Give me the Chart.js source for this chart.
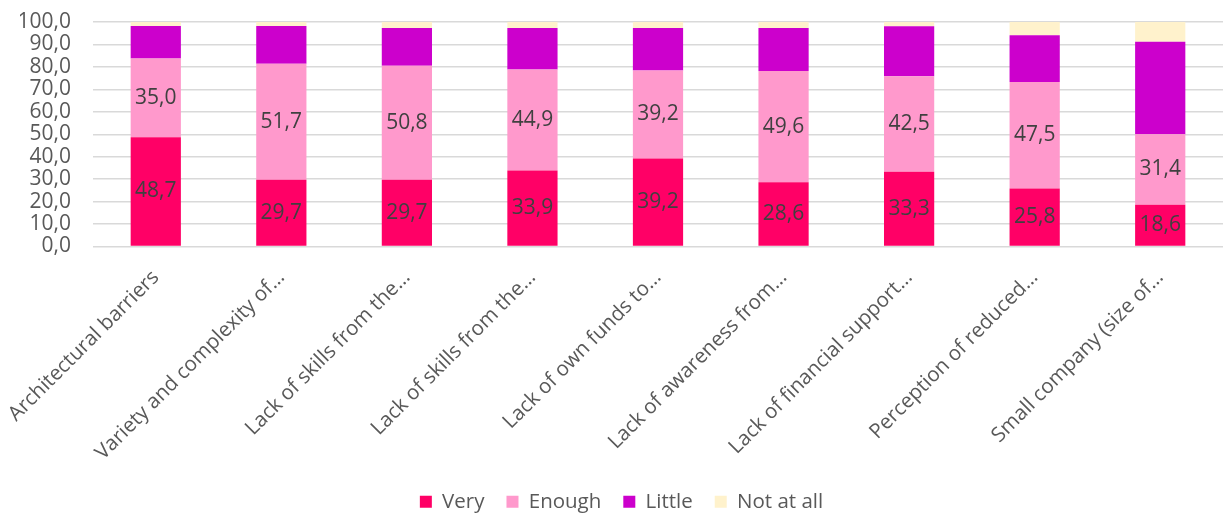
<!DOCTYPE html>
<html>
<head>
<meta charset="utf-8">
<script src="https://cdn.jsdelivr.net/npm/chart.js@4.4.1/dist/chart.umd.min.js"></script>
<style>
  html, body { margin: 0; padding: 0; background: #ffffff; }
  #wrap { width: 1223px; height: 515px; position: relative; }
</style>
</head>
<body>
<div id="wrap"><canvas id="c" width="1223" height="515"></canvas></div>
<script>
const categories = [
  "Architectural barriers",
  "Variety and complexity of…",
  "Lack of skills from the…",
  "Lack of skills from the…",
  "Lack of own funds to…",
  "Lack of awareness from…",
  "Lack of financial support…",
  "Perception of reduced…",
  "Small company (size of…"
];
const seriesNames = ["Very", "Enough", "Little", "Not at all"];
const veryValues     = [48.7, 29.7, 29.7, 33.9, 39.2, 28.6, 33.3, 25.8, 18.6];
const enoughValues   = [35.0, 51.7, 50.8, 44.9, 39.2, 49.6, 42.5, 47.5, 31.4];
const littleValues   = [14.5, 16.8, 16.8, 18.5, 18.9, 19.1, 22.3, 20.8, 41.2];
const notAtAllValues = [1.8, 1.8, 2.7, 2.7, 2.7, 2.7, 1.9, 5.9, 8.8];
const yTicks = [0, 10, 20, 30, 40, 50, 60, 70, 80, 90, 100];
const colors = ["#FF0066", "#FF99CC", "#CC00CC", "#FFF2CC"];

const FONT = "'Open Sans', sans-serif";
const fmt = v => v.toFixed(1).replace('.', ',');

const labelPlugin = {
  id: 'segLabels',
  afterDatasetsDraw(chart) {
    const ctx = chart.ctx;
    ctx.save();
    ctx.font = "21px " + FONT;
    ctx.fillStyle = "#404040";
    ctx.textAlign = "center";
    ctx.textBaseline = "middle";
    [0, 1].forEach(di => {
      const meta = chart.getDatasetMeta(di);
      meta.data.forEach((el, i) => {
        const v = chart.data.datasets[di].data[i];
        ctx.fillText(fmt(v), el.x, (el.y + el.base) / 2);
      });
    });
    ctx.restore();
  }
};

const seriesData = [veryValues, enoughValues, littleValues, notAtAllValues];

new Chart(document.getElementById('c'), {
  type: 'bar',
  data: {
    labels: categories,
    datasets: seriesNames.map((name, i) => ({
      label: name,
      data: seriesData[i],
      backgroundColor: colors[i],
      borderWidth: 0,
      barPercentage: 0.4,
      categoryPercentage: 1.0
    }))
  },
  options: {
    responsive: false,
    animation: false,
    layout: { padding: { top: 22, right: 0, left: 20, bottom: -7 } },
    plugins: {
      legend: {
        position: 'bottom',
        labels: {
          boxWidth: 12,
          boxHeight: 12,
          padding: 22,
          color: '#595959',
          font: { family: FONT, size: 20.5 }
        }
      },
      tooltip: { enabled: false }
    },
    scales: {
      x: {
        stacked: true,
        grid: { display: false, drawTicks: false },
        border: { display: false },
        ticks: {
          color: '#595959',
          font: { family: FONT, size: 20.5 },
          maxRotation: 45,
          minRotation: 45,
          padding: 19,
          autoSkip: false
        },
        afterFit: s => { s.height = 223; s.paddingTop = 0; s.paddingBottom = 0; s.paddingLeft = 0; s.paddingRight = 0; }
      },
      y: {
        stacked: true,
        min: 0,
        max: 100,
        afterBuildTicks: s => { s.ticks = yTicks.map(v => ({ value: v })); },
        grid: { color: '#d9d9d9', lineWidth: 1.5, drawTicks: false },
        border: { display: false },
        ticks: {
          color: '#595959',
          font: { family: FONT, size: 21 },
          padding: 22,
          autoSkip: false,
          callback: v => fmt(v)
        },
        afterFit: s => { s.width = 73; s.paddingTop = 0; s.paddingBottom = 0; }
      }
    }
  },
  plugins: [labelPlugin]
});
</script>
</body>
</html>
